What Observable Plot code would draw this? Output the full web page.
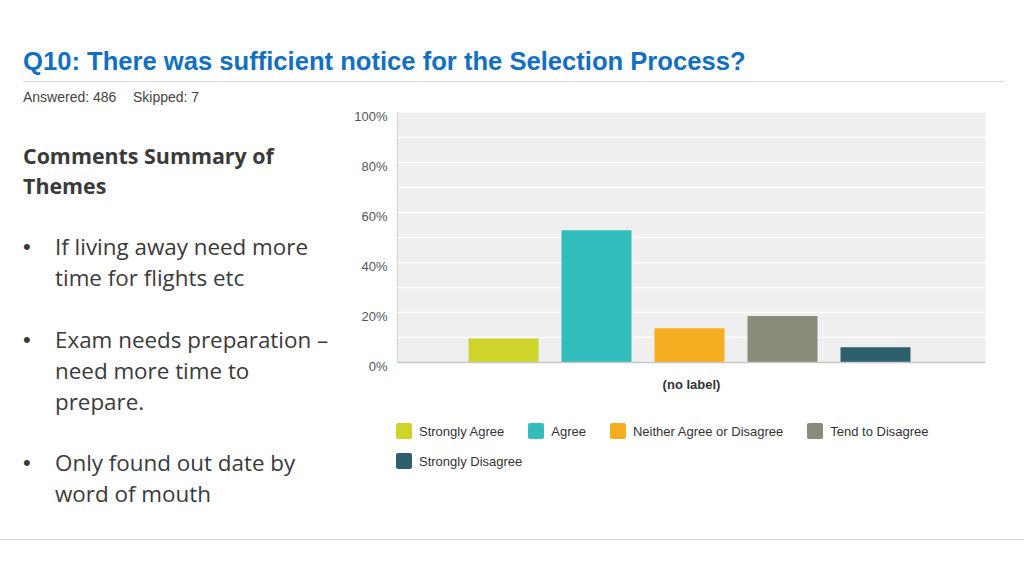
<!DOCTYPE html>
<html><head><meta charset="utf-8">
<script src="https://cdn.jsdelivr.net/npm/d3@7"></script>
<script src="https://cdn.jsdelivr.net/npm/@observablehq/plot@0.6"></script>
<style>
body{margin:0;background:#fff;}
#page{position:relative;width:1024px;height:576px;overflow:hidden;font-family:"Liberation Sans",Arial,sans-serif;background:#fff;}
#title{position:absolute;left:23px;top:49px;font-size:25.6px;line-height:25.6px;font-weight:bold;color:#1270c4;white-space:nowrap;}
#rule{position:absolute;left:23px;top:81px;width:982px;height:0;border-top:1px solid #dcdcdc;}
#meta{position:absolute;left:23px;top:90px;font-size:14px;line-height:14px;color:#444;white-space:nowrap;}
#meta span.sk{position:absolute;left:110px;}
.notes{position:absolute;font-family:"Open Sans",Lato,sans-serif;color:#3a3a3a;font-size:22.4px;line-height:31px;white-space:nowrap;}
.head{font-weight:bold;font-size:21.4px;line-height:30px;}
.bul{position:absolute;left:-32px;font-family:"Liberation Sans",Arial,sans-serif;font-size:22px;}
#chart{position:absolute;left:340px;top:100px;}
#legend{position:absolute;left:396px;top:423px;width:580px;display:flex;flex-wrap:wrap;row-gap:14px;font-size:13px;color:#333;}
.item{display:flex;align-items:center;margin-right:24px;height:16px;}
.sw{width:16px;height:16px;border-radius:2px;margin-right:7px;}
#bottomrule{position:absolute;left:0;top:539px;width:1024px;border-top:1px solid #d0d0d0;}
</style></head><body>
<div id="page">
 <div id="title">Q10: There was sufficient notice for the Selection Process?</div>
 <div id="rule"></div>
 <div id="meta"><span>Answered: 486</span><span class="sk">Skipped: 7</span></div>
 <div class="notes head" style="left:23px;top:141px;">Comments Summary of<br>Themes</div>
 <div class="notes" style="left:55px;top:231px;"><span class="bul">•</span>If living away need more<br>time for flights etc</div>
 <div class="notes" style="left:55px;top:324px;"><span class="bul">•</span>Exam needs preparation –<br>need more time to<br>prepare.</div>
 <div class="notes" style="left:55px;top:447px;"><span class="bul">•</span>Only found out date by<br>word of mouth</div>
 <div id="chart"></div>
 <div id="legend"></div>
 <div id="bottomrule"></div>
</div>
<script>
const categories = ["Strongly Agree", "Agree", "Neither Agree or Disagree", "Tend to Disagree", "Strongly Disagree"];
const percents = [9.4, 52.7, 13.5, 18.4, 5.9];
const colors = ["#cfd42a", "#33bdbd", "#f5ae22", "#8b8b7b", "#2e5f6c"];
const yTicks = [0, 20, 40, 60, 80, 100];
const gridTicks = [10, 20, 30, 40, 50, 60, 70, 80, 90];
const xLabel = "(no label)";

const data = categories.map((c, i) => ({category: c, percent: percents[i]}));

const chart = Plot.plot({
  width: 660, height: 300,
  marginLeft: 57, marginTop: 12, marginBottom: 38, marginRight: 15,
  style: {fontFamily: '"Liberation Sans", Arial, sans-serif', background: "transparent", overflow: "visible"},
  x: {domain: categories, paddingInner: 0.25, paddingOuter: 0.77, axis: null},
  y: {domain: [0, 100], axis: null},
  color: {domain: categories, range: colors},
  marks: [
    Plot.frame({fill: "#efefef"}),
    Plot.gridY(gridTicks, {stroke: "#ffffff", strokeOpacity: 1, strokeWidth: 1.5}),
    Plot.barY(data, {x: "category", y: "percent", fill: "category", dx: -1.5}),
    Plot.ruleY([0], {stroke: "#c8c8c8", strokeWidth: 1.5}),
    Plot.frame({anchor: "left", stroke: "#d8d8d8", strokeWidth: 1.5}),
    Plot.axisY(yTicks, {tickSize: 0, tickPadding: 10, tickFormat: d => d + "%", dy: 4.5, fontSize: 13, fill: "#555", label: null}),
    Plot.text([xLabel], {frameAnchor: "bottom", dy: 26, fontWeight: "bold", fontSize: 13, fill: "#333"})
  ]
});
document.getElementById("chart").appendChild(chart);

const legend = document.getElementById("legend");
const colorScale = chart.scale("color");
categories.forEach((c, i) => {
  const it = document.createElement("div");
  it.className = "item";
  const sw = document.createElement("div");
  sw.className = "sw";
  sw.style.background = colors[colorScale.domain.indexOf(c)];
  const t = document.createElement("span");
  t.textContent = c;
  it.appendChild(sw); it.appendChild(t);
  legend.appendChild(it);
});
</script>
</body></html>
